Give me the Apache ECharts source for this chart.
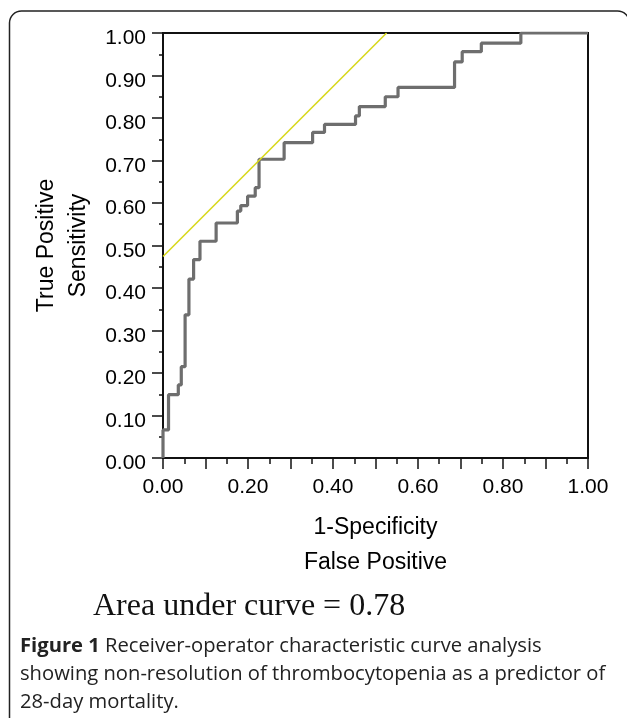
<!DOCTYPE html>
<html>
<head>
<meta charset="utf-8">
<script src="https://cdn.jsdelivr.net/npm/echarts@6/dist/echarts.min.js"></script>
<style>
  html, body { margin: 0; padding: 0; background: #fff; }
  #main { width: 627px; height: 718px; }
</style>
</head>
<body>
<div id="main"></div>
<script>
// ROC curve corners (1-specificity, sensitivity)
var fpr = [0, 0, 0.013, 0.036, 0.043, 0.052, 0.061, 0.072, 0.087, 0.125, 0.175, 0.183, 0.199, 0.217, 0.226,
           0.285, 0.352, 0.380, 0.453, 0.462, 0.523, 0.553, 0.686, 0.704, 0.749, 0.842, 1.0];
var tpr = [0, 0.066, 0.149, 0.172, 0.215, 0.337, 0.421, 0.467, 0.510, 0.553, 0.581, 0.594, 0.616, 0.636, 0.703,
           0.742, 0.766, 0.785, 0.805, 0.827, 0.850, 0.872, 0.932, 0.956, 0.976, 1.0, 1.0];
// yellow tangent line
var refX = [0, 0.526];
var refY = [0.474, 1.0];

var aucText = 'Area under curve = 0.78';
var captionBold = 'Figure 1';
var captionRest = [' Receiver-operator characteristic curve analysis',
                   'showing non-resolution of thrombocytopenia as a predictor of',
                   '28-day mortality.'];

var axisColor = '#111';
var txtColor = '#000';
var sans = 'Liberation Sans, Arial, sans-serif';

function pairs(xs, ys) {
  return xs.map(function (x, i) { return [x, ys[i]]; });
}

var option = {
  animation: false,
  grid: {
    left: 163, top: 33, right: 39, bottom: 260,
    show: true, borderColor: axisColor, borderWidth: 2
  },
  xAxis: {
    type: 'value', min: 0, max: 1, interval: 0.1,
    name: '1-Specificity\nFalse Positive',
    nameLocation: 'middle', nameGap: 52,
    nameTextStyle: { fontFamily: sans, fontSize: 23, color: txtColor, lineHeight: 35 },
    axisLine: { lineStyle: { color: axisColor, width: 2 } },
    axisTick: { length: 11, lineStyle: { color: axisColor, width: 1.5 } },
    minorTick: { show: true, splitNumber: 2, length: 6, lineStyle: { color: axisColor, width: 1.5 } },
    splitLine: { show: false },
    axisLabel: {
      margin: 19, fontFamily: sans, fontSize: 21, lineHeight: 21, color: txtColor,
      formatter: function (v) { return Math.round(v * 10) % 2 === 0 ? v.toFixed(2) : ''; }
    }
  },
  yAxis: {
    type: 'value', min: 0, max: 1, interval: 0.1,
    name: 'True Positive\nSensitivity',
    nameLocation: 'middle', nameGap: 55, nameRotate: 90,
    nameTextStyle: { fontFamily: sans, fontSize: 23, color: txtColor, lineHeight: 32 },
    axisLine: { lineStyle: { color: axisColor, width: 2 } },
    axisTick: { length: 11, lineStyle: { color: axisColor, width: 1.5 } },
    minorTick: { show: true, splitNumber: 2, length: 4, lineStyle: { color: axisColor, width: 1.5 } },
    splitLine: { show: false },
    axisLabel: {
      margin: 17, fontFamily: sans, fontSize: 21, lineHeight: 11, color: txtColor,
      verticalAlign: 'top',
      formatter: function (v) { return v.toFixed(2); }
    }
  },
  series: [
    {
      type: 'line', data: pairs(fpr, tpr), step: 'end', symbol: 'none',
      lineStyle: { color: '#6e6e6e', width: 3.2 }, z: 2
    },
    {
      type: 'line', data: pairs(refX, refY), symbol: 'none',
      lineStyle: { color: '#d8d81c', width: 1.6 }, z: 3
    }
  ],
  graphic: [
    { // rounded figure frame
      type: 'rect', silent: true,
      shape: { x: 9.5, y: 11, width: 620, height: 760, r: 12 },
      style: { fill: 'none', stroke: '#222', lineWidth: 1.5 }
    },
    {
      type: 'text', left: 93, top: 591,
      style: {
        text: aucText, fontFamily: 'Liberation Serif, Times New Roman, serif',
        fontSize: 32, fill: '#111'
      }
    },
    {
      type: 'text', left: 20, top: 632,
      style: {
        text: '{b|' + captionBold + '}' + captionRest.join('\n'),
        fontFamily: 'Open Sans', fontSize: 20.2, lineHeight: 28, fill: '#222',
        rich: { b: { fontFamily: 'Open Sans', fontWeight: 'bold', fontSize: 20.2, lineHeight: 28, fill: '#222' } }
      }
    }
  ]
};

var myChart = echarts.init(document.getElementById('main'));
myChart.setOption(option);
</script>
</body>
</html>
